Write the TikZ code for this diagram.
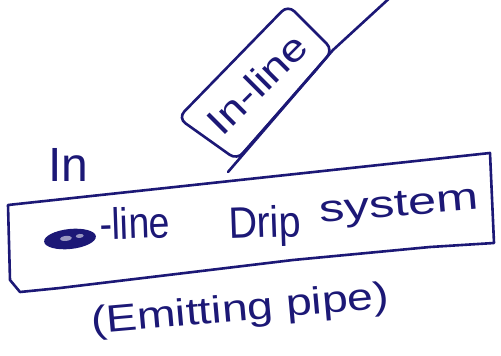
\documentclass[tikz,border=0pt]{standalone}
\usepackage{fontspec}
\setmainfont{Liberation Sans}
\definecolor{pen}{RGB}{28,24,118}
\tikzset{
  penstroke/.style={draw=pen, line width=2.6pt, line cap=round, line join=round},
  handtext/.style={text=pen, inner sep=0pt},
}
\begin{document}
\begin{tikzpicture}[x=1pt,y=1pt]
\useasboundingbox (0,0) rectangle (501,356);
\fill[white] (0,0) rectangle (501,356);
\begin{scope}
\clip (0,0) rectangle (501,356);
% coordinates
\coordinate (pipeLow) at (228,184);
\coordinate (boxRight) at (333,306);
\coordinate (pipeHigh) at (394,362);
\coordinate (innerA) at (239,199);
\coordinate (innerB) at (318,288);
% rotated In-line box
\draw[penstroke, rounded corners=9pt] (288,351) -- (boxRight) -- (237,196) -- (178,238) -- cycle;
\draw[penstroke] (pipeLow) -- (boxRight) -- (pipeHigh);
\draw[penstroke, line width=2pt] (innerA) -- (innerB);
\node[handtext, font=\fontsize{38}{42}\selectfont, rotate=45, xscale=1.2] (inline) at (257,272) {In-line};
% big rectangle
\draw[penstroke] (10,76) -- (8,151) -- (490,203) -- (494,113) -- (430,109) -- (293,96) -- (60,68) -- (20,64) -- cycle;
% scribble
\fill[pen, rotate around={6:(70,117)}] (70,117) ellipse [x radius=26, y radius=10];
\fill[pen!45!white, rotate around={6:(70,117)}] (66,118) ellipse [x radius=6, y radius=2.5];
\fill[pen!45!white, rotate around={6:(70,117)}] (80,119) ellipse [x radius=4, y radius=2];
\node[handtext, font=\fontsize{44}{48}\selectfont, anchor=base west, rotate=2, xscale=0.85] (lineword) at (100,116) {-line};
\node[handtext, font=\fontsize{44}{48}\selectfont, anchor=base west, rotate=2, xscale=0.9] (dripword) at (229,117) {Drip};
\node[handtext, font=\fontsize{38}{42}\selectfont, anchor=base west, rotate=5, xscale=1.33] (systemword) at (320,133) {system};
% In
\node[handtext, font=\fontsize{48}{52}\selectfont, anchor=base west] (inword) at (48,174) {In};
% Emitting pipe
\node[handtext, font=\fontsize{38}{42}\selectfont, anchor=base west, rotate=5, xscale=1.22] (emit) at (92,22) {(Emitting pipe)};
\end{scope}
\end{tikzpicture}
\end{document}
